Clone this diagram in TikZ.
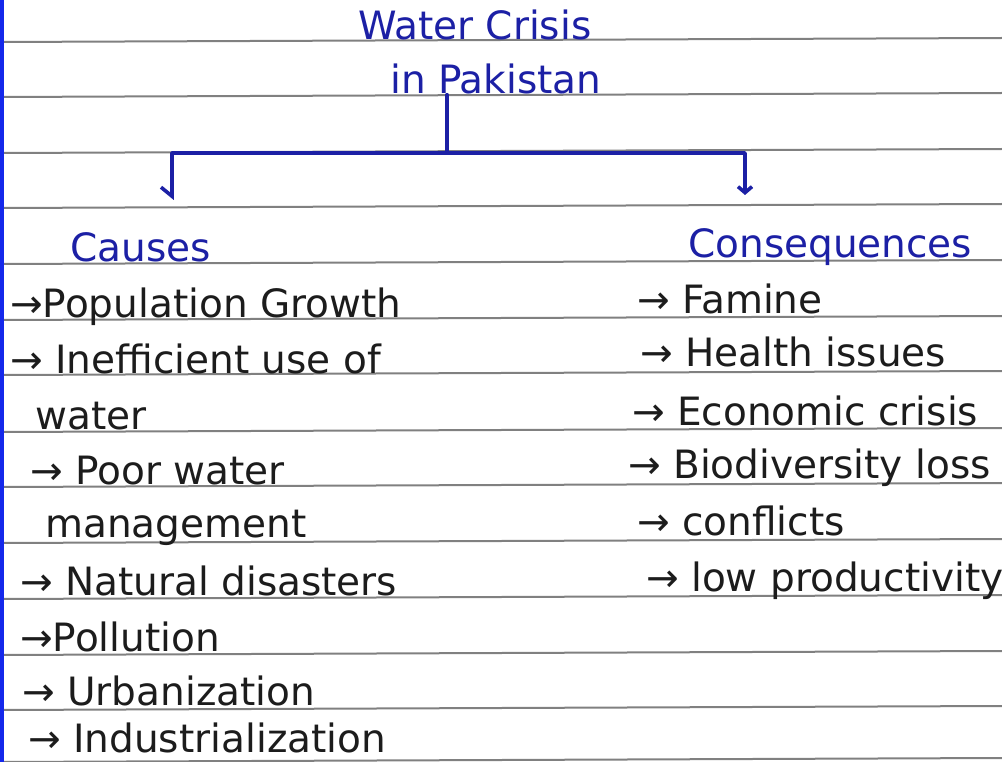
\documentclass[tikz,border=0pt]{standalone}
\usepackage{fontspec}
\setmainfont{DejaVu Sans}
\usepackage{xcolor}
\usetikzlibrary{arrows.meta}
\definecolor{inkblue}{RGB}{28,32,165}
\definecolor{ink}{RGB}{28,28,28}
\definecolor{ruling}{RGB}{128,128,128}
\definecolor{margin}{RGB}{20,40,235}

\begin{document}
\begin{tikzpicture}[x=1pt,y=-1pt,line cap=round,
    item/.style={anchor=base west,inner sep=0pt,text=ink,font=\fontsize{39}{42}\selectfont},
    head/.style={item,text=inkblue},
    branch/.style={draw=inkblue,line width=3.6pt,line join=round}]

    \useasboundingbox (0,0) rectangle (1002,762);
    \fill[white] (0,0) rectangle (1002,762);
    % ruled paper
    \foreach \y in {42,97,153,208,264,320,375,432,487,543,599,655,710,762}
        \draw[ruling,line width=2pt] (0,\y) -- (1002,\y-4);
    \fill[margin] (0,0) rectangle (4,762);

    % title
    \node[head] (t1) at (358,40) {Water Crisis};
    \node[head] (t2) at (390,94) {in Pakistan};

    % left column
    \node[head] (causes) at (70,262) {Causes};
    \node[item] (c1) at (10,318) {→Population Growth};
    \node[item] (c2) at (10,373) {→ Inefficient use of};
    \node[item] (c2b) at (35,429) {water};
    \node[item] (c3) at (30,484) {→ Poor water};
    \node[item] (c3b) at (45,537) {management};
    \node[item] (c4) at (20,595) {→ Natural disasters};
    \node[item] (c5) at (20,651) {→Pollution};
    \node[item] (c6) at (22,705) {→ Urbanization};
    \node[item] (c7) at (28,752) {→ Industrialization};

    % right column
    \node[head] (cons) at (688,258) {Consequences};
    \node[item] (q1) at (637,313) {→ Famine};
    \node[item] (q2) at (640,366) {→ Health issues};
    \node[item] (q3) at (632,425) {→ Economic crisis};
    \node[item] (q4) at (628,478) {→ Biodiversity loss};
    \node[item] (q5) at (637,535) {→ conflicts};
    \node[item] (q6) at (646,591) {→ low productivity};

    % branching connector
    \coordinate (stem) at (447,153);
    \coordinate (ltip) at (172,200);
    \coordinate (rtip) at (745,195);
    \draw[branch] (t2.south -| stem) -- (stem);
    \draw[branch,-{Straight Barb[right,length=9pt,width=22pt]}] (stem) -| (ltip);
    \draw[branch,-{Straight Barb[length=6pt,width=14pt]}] (stem) -| (rtip);
\end{tikzpicture}
\end{document}
